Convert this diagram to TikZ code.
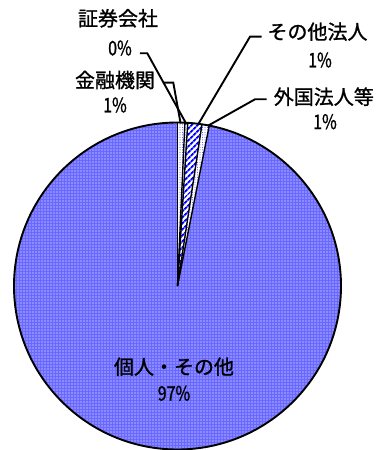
\documentclass[tikz,border=0pt]{standalone}
\usepackage{fontspec}
\setmainfont{Noto Sans CJK JP}[FakeBold=1.2]
\usepackage{graphicx}
\usepackage{tkz-euclide}
\usetikzlibrary{patterns.meta}
\definecolor{pieblue}{RGB}{105,105,255}
\definecolor{dotblue}{RGB}{60,60,255}
\tikzset{
  lbl/.style={inner sep=0pt, font=\fontsize{20}{24}\selectfont},
  bluepart/.style={fill=pieblue, postaction={pattern={Dots[distance=3pt,radius=0.65pt]}, pattern color=white}},
  whitepart/.style={fill=white, postaction={pattern={Dots[distance=2.5pt,radius=0.5pt]}, pattern color=dotblue}},
  stripepart/.style={fill=white, postaction={pattern={Lines[angle=45,distance=4pt,line width=2pt]}, pattern color=blue}},
  leader/.style={line width=1.9pt}
}
\newcommand{\pcttext}[1]{\scalebox{0.8}[1]{#1\%}}

\begin{document}
\begin{tikzpicture}[x=1pt,y=1pt]
    \useasboundingbox (-177.5,-164) rectangle (198.5,286);
    \tkzDefPoint(0,0){O}
    \path[bluepart] (O) -- (78.8:163.5) arc[start angle=78.8, end angle=-270, radius=163.5] -- cycle;
    \path[whitepart] (O) -- (90:163.5) arc[start angle=90, end angle=87.4, radius=163.5] -- cycle;
    \path[whitepart] (O) -- (87.4:163.5) arc[start angle=87.4, end angle=86.4, radius=163.5] -- cycle;
    \path[stripepart] (O) -- (86.4:163.5) arc[start angle=86.4, end angle=81.4, radius=163.5] -- cycle;
    \path[whitepart] (O) -- (81.4:163.5) arc[start angle=81.4, end angle=78.8, radius=163.5] -- cycle;
    \foreach \a in {90,87.4,86.4,81.4,78.8}
      \draw[line width=1.4pt] (O) -- (\a:163.5);
    \draw[line width=1.9pt] (O) circle (163.5);

    \node[lbl] (n_1) at (-59.5,267.7) {証券会社};
    \node[lbl] (p_1) at (-57.5,238) {\pcttext{0}};
    \node[lbl] (n_2) at (-62.5,206) {金融機関};
    \node[lbl] (p_2) at (-62.5,181) {\pcttext{1}};
    \node[lbl] (n_3) at (140,254.3) {その他法人};
    \node[lbl] (p_3) at (142.5,226) {\pcttext{1}};
    \node[lbl] (n_4) at (146.3,189.3) {外国法人等};
    \node[lbl] (p_4) at (147.5,164.3) {\pcttext{1}};
    \node[lbl] (n_5) at (-3.5,-80.7) {個人・その他};
    \node[lbl] (p_5) at (-3.5,-107.3) {\pcttext{97}};

    \tkzDefPoint(-37.5,232.7){s_1}
    \tkzDefPoint(-30.2,232.7){k_1}
    \tkzDefPoint(86.8:162){e_1}
    \tkzDefPoint(-14.5,203.3){s_2}
    \tkzDefPoint(-4.2,203.3){k_2}
    \tkzDefPoint(88.9:162.5){e_2}
    \tkzDefPoint(84.2,249.3){s_3}
    \tkzDefPoint(72.5,249.3){k_3}
    \tkzDefPoint(82.7:163){e_3}
    \tkzDefPoint(89.2,186.7){s_4}
    \tkzDefPoint(77.5,186.7){k_4}
    \tkzDefPoint(79.3:163){e_4}
    \draw[leader] (s_1) -- (k_1) -- (e_1);
    \draw[leader] (s_2) -- (k_2) -- (e_2);
    \draw[leader] (s_3) -- (k_3) -- (e_3);
    \draw[leader] (s_4) -- (k_4) -- (e_4);
\end{tikzpicture}
\end{document}
